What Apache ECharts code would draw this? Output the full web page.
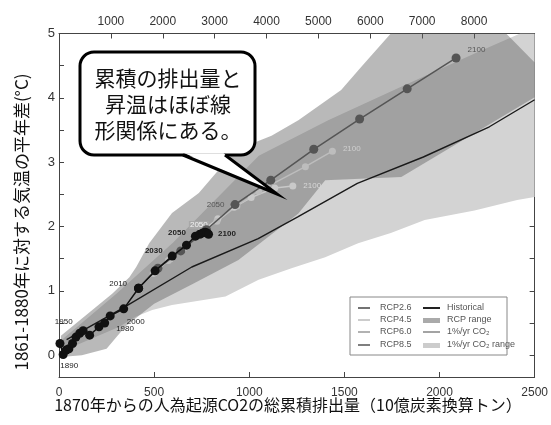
<!DOCTYPE html>
<html>
<head>
<meta charset="utf-8">
<script src="https://cdn.jsdelivr.net/npm/echarts@6.0.0/dist/echarts.min.js"></script>
<style>
  html, body { margin: 0; padding: 0; background: #fff; }
  #chart { width: 551px; height: 425px; }
</style>
</head>
<body>
<div id="chart"></div>
<script>
// Cumulative anthropogenic CO2 emissions since 1870 (GtC) vs. warming (°C)

// Historical decadal means
const histYears = [1880, 1890, 1900, 1910, 1920, 1930, 1940, 1950, 1960, 1970, 1980, 1990, 2000, 2010];
const histX = [5, 22, 38, 52, 71, 89, 109, 127, 161, 210, 240, 269, 340, 418];
const histY = [0.18, 0.01, 0.08, 0.10, 0.18, 0.28, 0.34, 0.38, 0.31, 0.44, 0.50, 0.61, 0.72, 1.04];

// Scenario decades
const rcpYears = [2010, 2020, 2030, 2040, 2050, 2060, 2070, 2080, 2090, 2100];
const rcp26X = [418, 505, 595, 670, 717, 740, 755, 768, 778, 786];
const rcp26Y = [1.04, 1.31, 1.54, 1.71, 1.85, 1.88, 1.90, 1.91, 1.90, 1.88];
const rcp45X = [418, 500, 585, 670, 750, 835, 920, 1010, 1134, 1229];
const rcp45Y = [1.04, 1.28, 1.50, 1.72, 1.93, 2.12, 2.30, 2.45, 2.60, 2.63];
const rcp60X = [418, 495, 575, 655, 735, 830, 935, 1050, 1295, 1437];
const rcp60Y = [1.04, 1.27, 1.47, 1.66, 1.86, 2.08, 2.32, 2.55, 2.93, 3.17];
const rcp85X = [418, 520, 640, 775, 925, 1113, 1339, 1580, 1830, 2087];
const rcp85Y = [1.04, 1.35, 1.62, 1.95, 2.34, 2.72, 3.20, 3.67, 4.14, 4.62];

// 1%/yr CO2 idealised experiment (multi-model mean)
const onePctX = [40, 335, 698, 1047, 1255, 1568, 1915, 2262, 2500];
const onePctY = [0.24, 0.73, 1.37, 1.81, 2.15, 2.67, 3.08, 3.55, 3.97];

// Model spread outlines (GtC, °C), traced clockwise
const onePctRangeX = [20, 300, 600, 800, 1050, 1415, 1781, 2199, 2424, 2500, 2500, 2408, 2184, 1922, 1744, 1572, 1399, 1222, 1049, 875, 594, 490, 405, 317, 72, 20];
const onePctRangeY = [0.25, 0.95, 1.75, 2.35, 3.1, 3.65, 4.15, 4.71, 5.0, 5.0, 2.46, 2.41, 2.25, 2.10, 1.90, 1.74, 1.52, 1.35, 1.17, 0.91, 0.78, 0.70, 0.60, 0.44, 0.13, 0.10];
const rcpRangeX = [10, 281, 370, 406, 474, 594, 735, 929, 1117, 1258, 1483, 1588, 1744, 2350, 2500, 2500, 1799, 1399, 1258, 943, 700, 500, 350, 250, 120, 10];
const rcpRangeY = [0.30, 0.96, 1.21, 1.37, 1.74, 2.21, 2.52, 3.19, 3.41, 3.65, 4.12, 4.48, 5.0, 5.0, 4.55, 4.01, 2.77, 2.72, 2.2, 1.48, 1.1, 0.8, 0.45, 0.1, 0.0, -0.03];

// Axis ticks
const co2Ticks = [1000, 2000, 3000, 4000, 5000, 6000, 7000, 8000, 9000];
const co2Labels = [1000, 2000, 3000, 4000, 5000, 6000, 7000, 8000];
const yTicks = [0, 0.5, 1, 1.5, 2, 2.5, 3, 3.5, 4, 4.5, 5];
const yLabels = [0, 1, 2, 3, 4, 5];

const GTC_TO_GTCO2 = 3.667;

const chart = echarts.init(document.getElementById('chart'), null, { renderer: 'canvas' });

const pairs = (xs, ys) => xs.map((x, i) => [x, ys[i]]);

// Year labels placed next to selected points
function labelled(xs, ys, years, marks, color, bold) {
  return xs.map((x, i) => {
    const m = marks[years[i]];
    const item = { value: [x, ys[i]] };
    if (m) {
      item.label = {
        show: true, formatter: String(years[i]), position: m.pos || 'right',
        offset: m.off || [0, 0], color: m.color || color, fontSize: 8,
        fontWeight: bold ? 'bold' : 'normal', fontFamily: 'Liberation Sans',
        backgroundColor: m.bg || 'transparent', padding: m.bg ? [0, 1] : 0
      };
    }
    return item;
  });
}

function polygonSeries(name, xs, ys, fill, z) {
  const pts = pairs(xs, ys);
  return {
    name, type: 'custom', z, clip: true, silent: true,
    data: [0],
    renderItem: (params, api) => ({
      type: 'polygon',
      shape: { points: pts.map(p => api.coord(p)) },
      style: { fill: fill }
    })
  };
}

function scenario(name, xs, ys, color, size, marks, labelColor, bold, z) {
  return {
    name, type: 'line', z,
    data: labelled(xs, ys, rcpYears, marks, labelColor, bold),
    symbol: 'circle', symbolSize: size,
    lineStyle: { color: color, width: 1.5 },
    itemStyle: { color: color }
  };
}

const axisColor = '#444';
const plain = v => String(v);
const tickFont = { color: '#333', fontSize: 12, fontFamily: 'Liberation Sans', formatter: plain };

const legendFont = '9px "Liberation Sans"';
function legendText(x, y, text) {
  return { type: 'text', z: 51, x, y, style: { text, fill: '#555', font: legendFont, verticalAlign: 'middle' } };
}

const option = {
  animation: false,
  backgroundColor: '#fff',
  grid: { left: 59, right: 13, top: 33.5, bottom: 48, containLabel: false },
  xAxis: [
    {
      type: 'value', position: 'bottom', min: 0, max: 2500, interval: 500,
      axisLine: { show: true, onZero: false, lineStyle: { color: axisColor, width: 1 } },
      axisTick: { show: true, inside: true, length: 5, lineStyle: { color: axisColor } },
      axisLabel: { ...tickFont, margin: 10 },
      splitLine: { show: false }
    },
    {
      type: 'value', position: 'top', min: 0, max: 2500 * GTC_TO_GTCO2,
      axisLine: { show: true, onZero: false, lineStyle: { color: axisColor, width: 1 } },
      axisTick: { show: true, inside: true, length: 5, lineStyle: { color: axisColor }, customValues: co2Ticks },
      axisLabel: { ...tickFont, margin: 6, customValues: co2Labels },
      splitLine: { show: false }
    }
  ],
  yAxis: [
    {
      type: 'value', position: 'left', min: -0.34, max: 5,
      axisLine: { show: true, onZero: false, lineStyle: { color: axisColor, width: 1 } },
      axisTick: { show: true, inside: true, length: 5, lineStyle: { color: axisColor }, customValues: yTicks },
      axisLabel: { ...tickFont, fontSize: 13, margin: 4, customValues: yLabels },
      splitLine: { show: false }
    },
    {
      type: 'value', position: 'right', min: -0.34, max: 5,
      axisLine: { show: true, onZero: false, lineStyle: { color: axisColor, width: 1 } },
      axisTick: { show: true, inside: true, length: 5, lineStyle: { color: axisColor }, customValues: yTicks },
      axisLabel: { show: false },
      splitLine: { show: false }
    }
  ],
  series: [
    polygonSeries('1%/yr CO2 range', onePctRangeX, onePctRangeY, '#d3d3d3', 1),
    polygonSeries('RCP range', rcpRangeX, rcpRangeY, 'rgba(99,99,99,0.45)', 2),
    {
      name: '1%/yr CO2', type: 'line', z: 3, data: pairs(onePctX, onePctY),
      symbol: 'none',
      lineStyle: { color: '#1a1a1a', width: 1.4 }
    },
    scenario('RCP4.5', rcp45X, rcp45Y, '#c9c9c9', 7,
      { 2100: { pos: 'right', off: [2, 0] } }, '#d8d8d8', false, 4),
    scenario('RCP6.0', rcp60X, rcp60Y, '#bdbdbd', 7,
      { 2050: { pos: 'top', off: [0, 2], color: '#f4f4f4', bg: '#a8a8a8' }, 2100: { pos: 'right', off: [2, -2] } }, '#cfcfcf', false, 4),
    scenario('RCP8.5', rcp85X, rcp85Y, '#555', 9,
      { 2050: { pos: 'left', off: [-1, 0] }, 2100: { pos: 'right', off: [2, -8] } }, '#555', false, 5),
    scenario('RCP2.6', rcp26X, rcp26Y, '#111', 9,
      { 2030: { pos: 'left', off: [0, -5] }, 2050: { pos: 'left', off: [0, -3] }, 2100: { pos: 'right', off: [0, 0] } }, '#222', true, 6),
    {
      name: 'Historical', type: 'line', z: 7,
      data: labelled(histX, histY, histYears, {
        1890: { pos: 'bottom', off: [6, -2] },
        1950: { pos: 'left', off: [-1, -9] },
        1980: { pos: 'right', off: [2, 6] },
        2000: { pos: 'bottom', off: [12, -1] },
        2010: { pos: 'left', off: [-2, -4] }
      }, '#222', false),
      symbol: 'circle', symbolSize: 9,
      lineStyle: { color: '#111', width: 1.5 },
      itemStyle: { color: '#111' }
    }
  ],
  graphic: [
    // axis titles
    {
      type: 'text', x: 22, y: 222, rotation: Math.PI / 2,
      style: {
        text: '1861-1880年に対する気温の平年差(°C)', fill: '#111',
        font: '17px "Noto Sans CJK JP"', align: 'center', verticalAlign: 'middle'
      }
    },
    {
      type: 'text', x: 288, y: 405,
      style: {
        text: '1870年からの人為起源CO2の総累積排出量（10億炭素換算トン）', fill: '#111',
        font: '16px "Noto Sans CJK JP"', align: 'center', verticalAlign: 'middle'
      }
    },
    // callout bubble: rounded body, then the tail drawn over its lower border
    {
      type: 'rect', z: 100,
      shape: { x: 80, y: 52, width: 175, height: 103, r: 14 },
      style: { fill: '#fff', stroke: '#000', lineWidth: 3 }
    },
    {
      type: 'polygon', z: 101,
      shape: { points: [[184.5, 153.2], [277, 194], [223.5, 153.2]] },
      style: { fill: '#fff' }
    },
    {
      type: 'polyline', z: 102,
      shape: { points: [[183, 155], [277, 194], [225, 155]] },
      style: { stroke: '#000', lineWidth: 3, fill: null, lineJoin: 'miter' }
    },
    {
      type: 'text', z: 103, x: 168, y: 104,
      style: {
        text: '累積の排出量と\n昇温はほぼ線\n形関係にある。', fill: '#111',
        font: '21px "Noto Sans CJK JP"', lineHeight: 26, align: 'center', verticalAlign: 'middle'
      }
    },
    // legend box
    {
      type: 'rect', z: 50, shape: { x: 350, y: 297, width: 157, height: 58 },
      style: { fill: '#fff', stroke: '#888', lineWidth: 1 }
    },
    { type: 'line', z: 51, shape: { x1: 358, y1: 308, x2: 370, y2: 308 }, style: { stroke: '#444', lineWidth: 1.5 } },
    { type: 'line', z: 51, shape: { x1: 358, y1: 320, x2: 370, y2: 320 }, style: { stroke: '#bbb', lineWidth: 1.5 } },
    { type: 'line', z: 51, shape: { x1: 358, y1: 332, x2: 370, y2: 332 }, style: { stroke: '#999', lineWidth: 1.5 } },
    { type: 'line', z: 51, shape: { x1: 358, y1: 345, x2: 370, y2: 345 }, style: { stroke: '#555', lineWidth: 1.5 } },
    { type: 'line', z: 51, shape: { x1: 423, y1: 308, x2: 440, y2: 308 }, style: { stroke: '#222', lineWidth: 2 } },
    { type: 'rect', z: 51, shape: { x: 423, y: 318, width: 17, height: 5 }, style: { fill: '#aaa' } },
    { type: 'line', z: 51, shape: { x1: 423, y1: 332, x2: 440, y2: 332 }, style: { stroke: '#666', lineWidth: 1.2 } },
    { type: 'rect', z: 51, shape: { x: 423, y: 343, width: 17, height: 5 }, style: { fill: '#ccc' } },
    legendText(380, 308, 'RCP2.6'),
    legendText(380, 320, 'RCP4.5'),
    legendText(380, 332, 'RCP6.0'),
    legendText(380, 345, 'RCP8.5'),
    legendText(447, 308, 'Historical'),
    legendText(447, 320, 'RCP range'),
    legendText(447, 332, '1%/yr CO₂'),
    legendText(447, 345, '1%/yr CO₂ range')
  ]
};

chart.setOption(option);
</script>
</body>
</html>
